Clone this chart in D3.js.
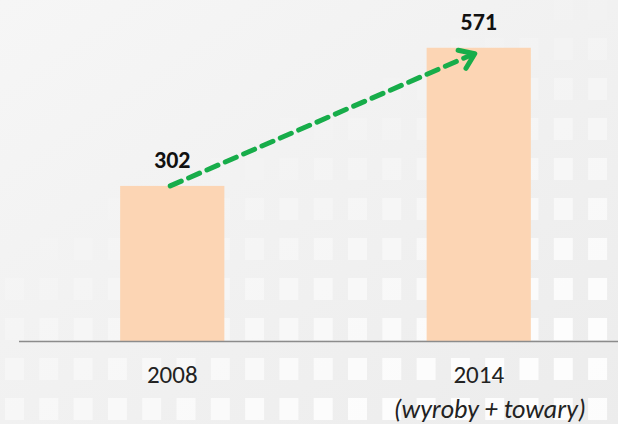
<!DOCTYPE html>
<html><head><meta charset="utf-8">
<script src="https://cdn.jsdelivr.net/npm/d3@7"></script>
<style>html,body{margin:0;padding:0;background:#f3f3f3;}svg{display:block;}</style>
</head><body>
<svg id="chart" width="618" height="424"></svg>
<script>
const categories = ["2008", "2014"];
const values = [302, 571];
const subLabels = ["", "(wyroby + towary)"];

const W = 618, H = 424;
const svg = d3.select("#chart");
const font = "Carlito, Lato, 'Open Sans', sans-serif";

// background gradient + decorative squares
const defs = svg.append("defs");
const g1 = defs.append("linearGradient").attr("id","bg").attr("x1","0").attr("y1","0").attr("x2","1").attr("y2","1");
g1.append("stop").attr("offset","0").attr("stop-color","#f6f6f6");
g1.append("stop").attr("offset","1").attr("stop-color","#ececec");
svg.append("rect").attr("width",W).attr("height",H).attr("fill","url(#bg)");
const deco = svg.append("g");
for (let r = 0; r < 11; r++) {
  for (let c = 0; c < 19; c++) {
    const x = 5 + c*34.3, y = -2 + r*40;
    const op = Math.max(0, Math.min(1, (x/W)*0.8 + (y/H)*1.2 - 0.6));
    if (op <= 0.02) continue;
    deco.append("rect").attr("x",x).attr("y",y).attr("width",19).attr("height",22)
      .attr("fill","#ffffff").attr("opacity",op*0.85);
  }
}

const x = d3.scaleBand().domain(categories).range([19, 632]).paddingInner(0.66).paddingOuter(0.33);
const y = d3.scaleLinear().domain([0, 664]).range([341, 0]);

svg.selectAll("rect.bar").data(values).enter().append("rect").attr("class","bar")
  .attr("x",(d,i)=>x(categories[i])).attr("width",x.bandwidth())
  .attr("y",d=>y(d)).attr("height",d=>y(0)-y(d)).attr("fill","#fcd5b4");

const axis = svg.append("g").attr("transform",`translate(0,${y(0)})`)
  .call(d3.axisBottom(x).tickSize(0).tickPadding(0));
axis.select(".domain").attr("d",`M19,0.5H618`).attr("stroke","#8c8c8c").attr("stroke-width",1.3);
axis.selectAll(".tick text").attr("font-family",font).attr("font-size",25).attr("fill","#222")
  .attr("dy",null).attr("y",42);
axis.selectAll(".tick").append("text").text((d,i)=>subLabels[i])
  .attr("x",11).attr("y",77).attr("font-family",font).attr("font-size",26)
  .attr("font-style","italic").attr("fill","#222").attr("text-anchor","middle");

svg.selectAll("text.val").data(values).enter().append("text").attr("class","val")
  .attr("x",(d,i)=>x(categories[i])+x.bandwidth()/2)
  .attr("y",d=>y(d)-18).attr("text-anchor","middle")
  .attr("font-family",font).attr("font-weight","bold").attr("font-size",24).attr("fill","#111")
  .text(d=>d);

// dashed growth arrow
const x0 = x(categories[0]) + x.bandwidth()/2 - 2, y0 = y(values[0]);
const x1 = x(categories[1]) + x.bandwidth()/2 - 4, y1 = y(values[1]) + 6;
svg.append("line").attr("x1",x0).attr("y1",y0).attr("x2",x1-3).attr("y2",y1+1)
  .attr("stroke","#17ad4a").attr("stroke-width",5).attr("stroke-dasharray","12,8").attr("stroke-linecap","round");
const ang = Math.atan2(y1-y0, x1-x0);
const L = 17, spread = 0.62;
const p1 = [x1 - L*Math.cos(ang-spread), y1 - L*Math.sin(ang-spread)];
const p2 = [x1 - L*Math.cos(ang+spread), y1 - L*Math.sin(ang+spread)];
svg.append("path").attr("d",`M${p1}L${x1},${y1}L${p2}`).attr("fill","none")
  .attr("stroke","#17ad4a").attr("stroke-width",5).attr("stroke-linecap","round").attr("stroke-linejoin","round");
</script>
</body></html>
